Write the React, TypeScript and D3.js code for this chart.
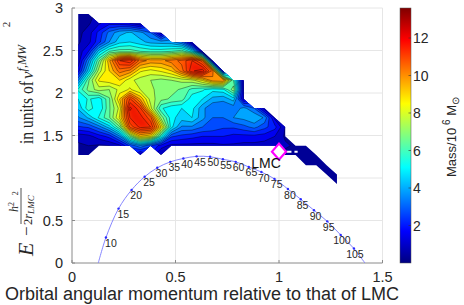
import React, { useEffect, useRef } from 'react';
import * as d3 from 'd3';

const _ = null;

// grid columns: orbital angular momentum relative to LMC
const gridL = [0.03, 0.08, 0.13, 0.18, 0.23, 0.28, 0.33, 0.38, 0.43, 0.48, 0.53, 0.58, 0.63,
  0.68, 0.73, 0.78, 0.83, 0.88, 0.93, 0.98, 1.03, 1.08, 1.13, 1.18, 1.23, 1.28];
// grid rows: energy (top row first)
const gridE = [2.93, 2.82, 2.71, 2.60, 2.49, 2.38, 2.26, 2.15, 2.04, 1.93, 1.82, 1.71, 1.60,
  1.49, 1.38, 1.27, 1.15, 1.04, 0.93];

// mass in 10^6 Msun, null = no particles
const massGrid: (number | null)[][] = [
  [0.3, 0.3, _, _, _, _, _, _, _, _, _, _, _, _, _, _, _, _, _, _, _, _, _, _, _, _],
  [0.3, 0.5, 1.1, 1.6, 1.5, 1.2, 0.6, _, _, _, _, _, _, _, _, _, _, _, _, _, _, _, _, _, _, _],
  [0.4, 0.9, 2.0, 3.2, 4.0, 4.3, 3.8, 3.0, 0.8, _, _, _, _, _, _, _, _, _, _, _, _, _, _, _, _, _],
  [0.5, 1.0, 2.2, 3.6, 4.6, 4.8, 4.4, 4.0, 3.9, 3.8, 3.0, 0.6, _, _, _, _, _, _, _, _, _, _, _, _, _, _],
  [0.8, 1.8, 4.5, 6.0, 6.3, 6.3, 6.0, 5.8, 5.8, 6.0, 6.4, 5.0, 1.0, _, _, _, _, _, _, _, _, _, _, _, _, _],
  [0.8, 3.5, 6.5, 9.5, 12.0, 12.5, 10.5, 10.0, 10.0, 10.5, 11.0, 12.0, 10.5, 1.0, _, _, _, _, _, _, _, _, _, _, _, _],
  [1.5, 4.5, 7.5, 9.0, 10.5, 10.0, 8.5, 8.2, 8.5, 9.0, 10.5, 12.5, 13.0, 10.5, 1.5, _, _, _, _, _, _, _, _, _, _, _],
  [3.5, 6.5, 8.5, 8.8, 9.0, 8.0, 7.5, 7.2, 7.0, 7.2, 7.4, 7.6, 8.5, 10.0, 10.2, 6.0, 0.8, _, _, _, _, _, _, _, _, _],
  [5.5, 6.8, 7.5, 7.2, 8.0, 8.5, 7.8, 7.3, 7.0, 6.8, 6.5, 5.8, 5.5, 5.0, 5.2, 7.0, 1.0, _, _, _, _, _, _, _, _, _],
  [4.8, 5.5, 5.0, 6.5, 9.0, 11.5, 9.5, 7.5, 6.8, 6.5, 6.3, 5.0, 4.8, 4.0, 3.8, 4.5, 1.0, _, _, _, _, _, _, _, _, _],
  [4.3, 5.8, 4.8, 6.5, 8.0, 12.8, 11.5, 8.0, 5.5, 5.0, 4.8, 5.0, 3.8, 3.0, 3.0, 3.2, 3.8, 3.0, 0.8, _, _, _, _, _, _, _],
  [3.5, 4.3, 5.5, 6.5, 8.5, 12.0, 12.3, 11.0, 7.0, 5.0, 4.5, 4.8, 3.8, 3.0, 3.0, 3.6, 3.8, 4.2, 3.5, 1.0, _, _, _, _, _, _],
  [2.3, 2.5, 3.3, 4.5, 6.5, 11.0, 12.2, 12.0, 9.0, 5.0, 3.5, 3.5, 3.0, 2.8, 2.5, 2.5, 2.8, 3.2, 2.6, 2.0, 0.6, _, _, _, _, _],
  [0.8, 1.0, 1.5, 2.0, 3.5, 6.5, 9.0, 8.5, 5.5, 2.5, 2.2, 2.0, 1.8, 1.8, 1.8, 1.6, 1.6, 1.6, 1.5, 1.2, 0.5, _, _, _, _, _],
  [0.5, 0.6, 0.5, 0.6, 1.0, 2.5, 3.5, 2.5, 1.5, 1.0, 1.0, 1.0, 1.0, 1.0, 1.1, 1.1, 1.0, 1.0, 0.9, 0.8, 0.7, 0.5, 0.4, _, _, _],
  [0.3, 0.3, _, _, _, _, 0.8, _, 0.5, _, _, _, _, _, _, _, _, _, _, _, 0.4, 0.5, 0.5, 0.3, _, _],
  [_, _, _, _, _, _, _, _, _, _, _, _, _, _, _, _, _, _, _, _, _, _, 0.4, 0.5, 0.3, _],
  [_, _, _, _, _, _, _, _, _, _, _, _, _, _, _, _, _, _, _, _, _, _, _, _, 0.4, 0.3],
  [_, _, _, _, _, _, _, _, _, _, _, _, _, _, _, _, _, _, _, _, _, _, _, _, _, 0.3],
];

// contour levels
const levels = [0, 0.6, 1.2, 1.8, 2.4, 3.0, 3.6, 4.2, 4.8, 5.4, 6.0, 6.6, 7.2, 7.8, 8.4, 9.0,
  9.6, 10.2, 10.8, 11.4, 12.0, 12.6, 13.2];
const cbarMax = 13.6;
const cbarTicks = [2, 4, 6, 8, 10, 12];

// orbit with LMC pericentre, labelled by pericentre distance (kpc)
const periDist = [10, 15, 20, 25, 30, 35, 40, 45, 50, 55, 60, 65, 70, 75, 80, 85, 90, 95, 100, 105];
const periL = [0.164, 0.225, 0.288, 0.351, 0.412, 0.475, 0.538, 0.602, 0.667, 0.729, 0.791, 0.854,
  0.915, 0.978, 1.043, 1.105, 1.169, 1.233, 1.298, 1.362];
const periE = [0.30, 0.64, 0.86, 1.015, 1.12, 1.19, 1.23, 1.255, 1.25, 1.22, 1.19, 1.13, 1.07, 0.99,
  0.87, 0.75, 0.62, 0.49, 0.33, 0.17];
const curveEndsL = [0.127, 1.415];

const lmcL = 1.0, lmcE = 1.31;
const lmcRange = [0.92, 1.09];

const xTicks = [0, 0.5, 1, 1.5];
const yTicks = [0, 0.5, 1, 1.5, 2, 2.5, 3];

const jet = (t: number) => {
  const c = (v: number) => Math.max(0, Math.min(1, v)) * 255;
  t = Math.max(0, Math.min(1, t));
  return d3.rgb(c(1.5 - Math.abs(4 * t - 3)), c(1.5 - Math.abs(4 * t - 2)), c(1.5 - Math.abs(4 * t - 1))).toString();
};

const App: React.FC = () => {
  const svgRef = useRef<SVGSVGElement>(null);

  useEffect(() => {
    if (!svgRef.current) return;
    const svg = d3.select(svgRef.current);
    svg.selectAll('*').remove();

    const sans = '"Liberation Sans", Arial, sans-serif';
    const serif = '"Liberation Serif", "Times New Roman", serif';

    const x = d3.scaleLinear().domain([0, 1.5]).range([72, 382.5]);
    const y = d3.scaleLinear().domain([0, 3]).range([263, 8]);

    const defs = svg.append('defs');

    // grid lines
    svg.append('g').selectAll('line').data(yTicks.slice(1)).join('line')
      .attr('x1', x(0)).attr('x2', x(1.5)).attr('y1', d => y(d)).attr('y2', d => y(d))
      .attr('stroke', '#e6e6e6').attr('stroke-width', 1);
    svg.append('g').selectAll('line').data(xTicks.slice(1)).join('line')
      .attr('x1', d => x(d)).attr('x2', d => x(d)).attr('y1', y(0)).attr('y2', y(3))
      .attr('stroke', '#e6e6e6').attr('stroke-width', 1);

    // padded grid values for d3.contours
    const nx = gridL.length, ny = gridE.length;
    const PX = nx + 2, PY = ny + 2;
    const OUT = -1e6;
    const maskVals: number[] = new Array(PX * PY).fill(OUT);
    massGrid.forEach((row, j) => row.forEach((v, i) => {
      if (v != null) maskVals[(j + 1) * PX + i + 1] = v;
    }));
    // extend values outward so the lines cross the mask edge cleanly
    let ext = maskVals.slice();
    for (let pass = 0; pass < 3; pass++) {
      const next = ext.slice();
      for (let r = 0; r < PY; r++) {
        for (let c = 0; c < PX; c++) {
          if (ext[r * PX + c] !== OUT) continue;
          let s = 0, n = 0;
          for (let dr = -1; dr <= 1; dr++) for (let dc = -1; dc <= 1; dc++) {
            const rr = r + dr, cc = c + dc;
            if (rr < 0 || cc < 0 || rr >= PY || cc >= PX) continue;
            const v = ext[rr * PX + cc];
            if (v !== OUT) { s += v; n++; }
          }
          if (n) next[r * PX + c] = s / n;
        }
      }
      ext = next;
    }
    ext = ext.map(v => (v === OUT ? 0 : v));

    const colScale = d3.scaleLinear().domain(gridL.map((_d, i) => i)).range(gridL);
    const rowScale = d3.scaleLinear().domain(gridE.map((_d, i) => i)).range(gridE);
    const proj = d3.geoTransform({
      point: function (px: number, py: number) {
        // @ts-ignore
        this.stream.point(x(colScale(px - 1.5)), y(rowScale(py - 1.5)));
      }
    });
    const path = d3.geoPath(proj as any);

    const bands = d3.contours().size([PX, PY]).thresholds(levels)(ext);
    const mask = d3.contours().size([PX, PY]).thresholds([0])(maskVals)[0];

    defs.append('clipPath').attr('id', 'massClip')
      .append('path').attr('d', path(mask as any) || '');
    const blur = defs.append('filter').attr('id', 'glow')
      .attr('x', '-50%').attr('y', '-50%').attr('width', '200%').attr('height', '200%');
    blur.append('feGaussianBlur').attr('stdDeviation', 2.5);

    const cg = svg.append('g').attr('clip-path', 'url(#massClip)');
    cg.selectAll('path.fill').data(bands).join('path')
      .attr('d', d => path(d as any) || '')
      .attr('fill', d => jet((d.value + 0.3) / cbarMax))
      .attr('fill-rule', 'evenodd');
    cg.selectAll('path.glow').data(bands.filter(d => d.value >= 9.6)).join('path')
      .attr('d', d => path(d as any) || '')
      .attr('fill', d => jet((d.value + 0.3) / cbarMax))
      .attr('fill-rule', 'evenodd')
      .attr('opacity', 0.45)
      .attr('filter', 'url(#glow)');
    cg.selectAll('path.line').data(bands.filter(d => d.value > 0)).join('path')
      .attr('d', d => path(d as any) || '')
      .attr('fill', 'none')
      .attr('stroke', '#000')
      .attr('stroke-opacity', 0.75)
      .attr('stroke-width', 0.5);

    // axes
    const axisCol = '#8a8a8a';
    svg.append('line').attr('x1', x(0)).attr('x2', x(0)).attr('y1', y(0)).attr('y2', y(3))
      .attr('stroke', axisCol).attr('stroke-width', 1);
    svg.append('line').attr('x1', x(0)).attr('x2', x(1.5)).attr('y1', y(0)).attr('y2', y(0))
      .attr('stroke', axisCol).attr('stroke-width', 1);
    svg.append('g').selectAll('line').data(yTicks).join('line')
      .attr('x1', x(0)).attr('x2', x(0) + 3).attr('y1', d => y(d)).attr('y2', d => y(d))
      .attr('stroke', axisCol);
    svg.append('g').selectAll('line').data(xTicks).join('line')
      .attr('x1', d => x(d)).attr('x2', d => x(d)).attr('y1', y(0)).attr('y2', y(0) - 3)
      .attr('stroke', axisCol);

    svg.append('g').selectAll('text').data(xTicks).join('text')
      .attr('x', d => x(d)).attr('y', 282)
      .attr('text-anchor', 'middle')
      .style('font-family', sans).style('font-size', '14.5px').style('fill', '#262626')
      .text(d => String(d));
    svg.append('g').selectAll('text').data(yTicks).join('text')
      .attr('x', 63).attr('y', d => y(d) + 5)
      .attr('text-anchor', 'end')
      .style('font-family', sans).style('font-size', '14.5px').style('fill', '#262626')
      .text(d => String(d));

    // pericentre curve
    const curvePts: [number, number][] = [
      [curveEndsL[0], 0],
      ...periL.map((l, i) => [l, periE[i]] as [number, number]),
      [curveEndsL[1], 0]
    ];
    svg.append('path').datum(curvePts)
      .attr('d', d3.line<[number, number]>().x(d => x(d[0])).y(d => y(d[1])).curve(d3.curveCatmullRom))
      .attr('fill', 'none').attr('stroke', '#7878ff').attr('stroke-width', 0.9);
    svg.append('g').selectAll('circle').data(periL).join('circle')
      .attr('cx', d => x(d)).attr('cy', (_d, i) => y(periE[i])).attr('r', 1.2)
      .attr('fill', '#2a2aff');
    svg.append('g').selectAll('text').data(periDist).join('text')
      .attr('x', (_d, i) => x(periL[i]) + 5 - 4 * i / (periDist.length - 1))
      .attr('y', (_d, i) => y(periE[i]) + 9.5)
      .attr('text-anchor', 'middle')
      .style('font-family', sans).style('font-size', '10.5px').style('fill', '#262626')
      .text(d => String(d));

    // LMC
    svg.append('line').attr('x1', x(lmcRange[0])).attr('x2', x(lmcRange[1]))
      .attr('y1', y(lmcE)).attr('y2', y(lmcE))
      .attr('stroke', '#fff').attr('stroke-width', 2).attr('stroke-dasharray', '5,3');
    const lx = x(lmcL), ly = y(lmcE);
    svg.append('path')
      .attr('d', `M${lx},${ly - 8}L${lx + 7},${ly}L${lx},${ly + 8}L${lx - 7},${ly}Z`)
      .attr('fill', '#fff').attr('stroke', '#ff00ff').attr('stroke-width', 2.2);
    svg.append('text').attr('x', lx - 13).attr('y', ly + 16)
      .attr('text-anchor', 'middle')
      .style('font-family', sans).style('font-size', '14px').style('fill', '#111')
      .text('LMC');

    // colorbar
    const cb = d3.scaleLinear().domain([0, cbarMax]).range([263, 8]);
    const grad = defs.append('linearGradient').attr('id', 'jetGrad')
      .attr('x1', 0).attr('x2', 0).attr('y1', 1).attr('y2', 0);
    [0, 0.125, 0.25, 0.375, 0.5, 0.625, 0.75, 0.875, 1].forEach(t => {
      grad.append('stop').attr('offset', t).attr('stop-color', jet(t));
    });
    svg.append('rect').attr('x', 400).attr('y', cb(cbarMax)).attr('width', 11)
      .attr('height', cb(0) - cb(cbarMax))
      .attr('fill', 'url(#jetGrad)').attr('stroke', '#555').attr('stroke-width', 0.5);
    svg.append('g').selectAll('line').data(cbarTicks).join('line')
      .attr('x1', 408.5).attr('x2', 411).attr('y1', d => cb(d)).attr('y2', d => cb(d))
      .attr('stroke', '#333').attr('stroke-width', 0.6);
    svg.append('g').selectAll('text').data(cbarTicks).join('text')
      .attr('x', 413).attr('y', d => cb(d) + 5)
      .style('font-family', sans).style('font-size', '14px').style('fill', '#262626')
      .text(d => String(d));

    const cbl = svg.append('text')
      .attr('transform', 'translate(456,137) rotate(-90)')
      .attr('text-anchor', 'middle')
      .style('font-family', sans).style('font-size', '13px').style('fill', '#262626');
    cbl.append('tspan').text('Mass/10');
    cbl.append('tspan').attr('dy', -6).style('font-size', '10px').text(' 6');
    cbl.append('tspan').attr('dy', 6).text(' M');
    cbl.append('tspan').attr('dy', 3).style('font-size', '10px').text('\u2299');

    // x label
    svg.append('text').attr('x', 202).attr('y', 300)
      .attr('text-anchor', 'middle')
      .style('font-family', sans).style('font-size', '18px').style('fill', '#262626')
      .text('Orbital angular momentum relative to that of LMC');

    // y label
    const yl = svg.append('g').attr('transform', 'translate(33,137) rotate(-90)')
      .style('font-family', serif).style('fill', '#262626');
    yl.append('text').attr('x', -119).attr('y', 0)
      .style('font-size', '22px').style('font-style', 'italic').text('E');
    yl.append('text').attr('x', -99).attr('y', -1)
      .style('font-size', '17px').text('\u2212');
    yl.append('text').attr('x', -70).attr('y', -15).attr('text-anchor', 'middle')
      .style('font-size', '12px')
      .call(t => {
        t.append('tspan').style('font-style', 'italic').text('h');
        t.append('tspan').attr('dy', -4).style('font-size', '8px').text('2');
      });
    yl.append('line').attr('x1', -87).attr('x2', -51).attr('y1', -12).attr('y2', -12)
      .attr('stroke', '#262626').attr('stroke-width', 0.8);
    const den = yl.append('text').attr('x', -88).attr('y', -1).style('font-size', '12.5px');
    den.append('tspan').text('2');
    den.append('tspan').style('font-style', 'italic').text('r');
    den.append('tspan').attr('dy', 2).style('font-size', '9px').style('font-style', 'italic').text('LMC');
    den.append('tspan').attr('dy', -16).style('font-size', '8px').text('2');
    yl.append('text').attr('x', -7).attr('y', 0).attr('transform', 'scale(1,1.25)')
      .style('font-size', '15.5px').text('in units of');
    const vt = yl.append('text').attr('x', 58).attr('y', 0).style('font-size', '17px');
    vt.append('tspan').style('font-style', 'italic').text('v');
    vt.append('tspan').attr('dy', -7).style('font-size', '12px').style('font-style', 'italic').text('f,MW');
    vt.append('tspan').attr('dx', 18).attr('dy', -16).style('font-size', '11px').text('2');
  }, []);

  return (
    <svg ref={svgRef} width={464} height={305}
      style={{ position: 'absolute', left: 0, top: 0, background: '#fff' }} />
  );
};

export default App;
